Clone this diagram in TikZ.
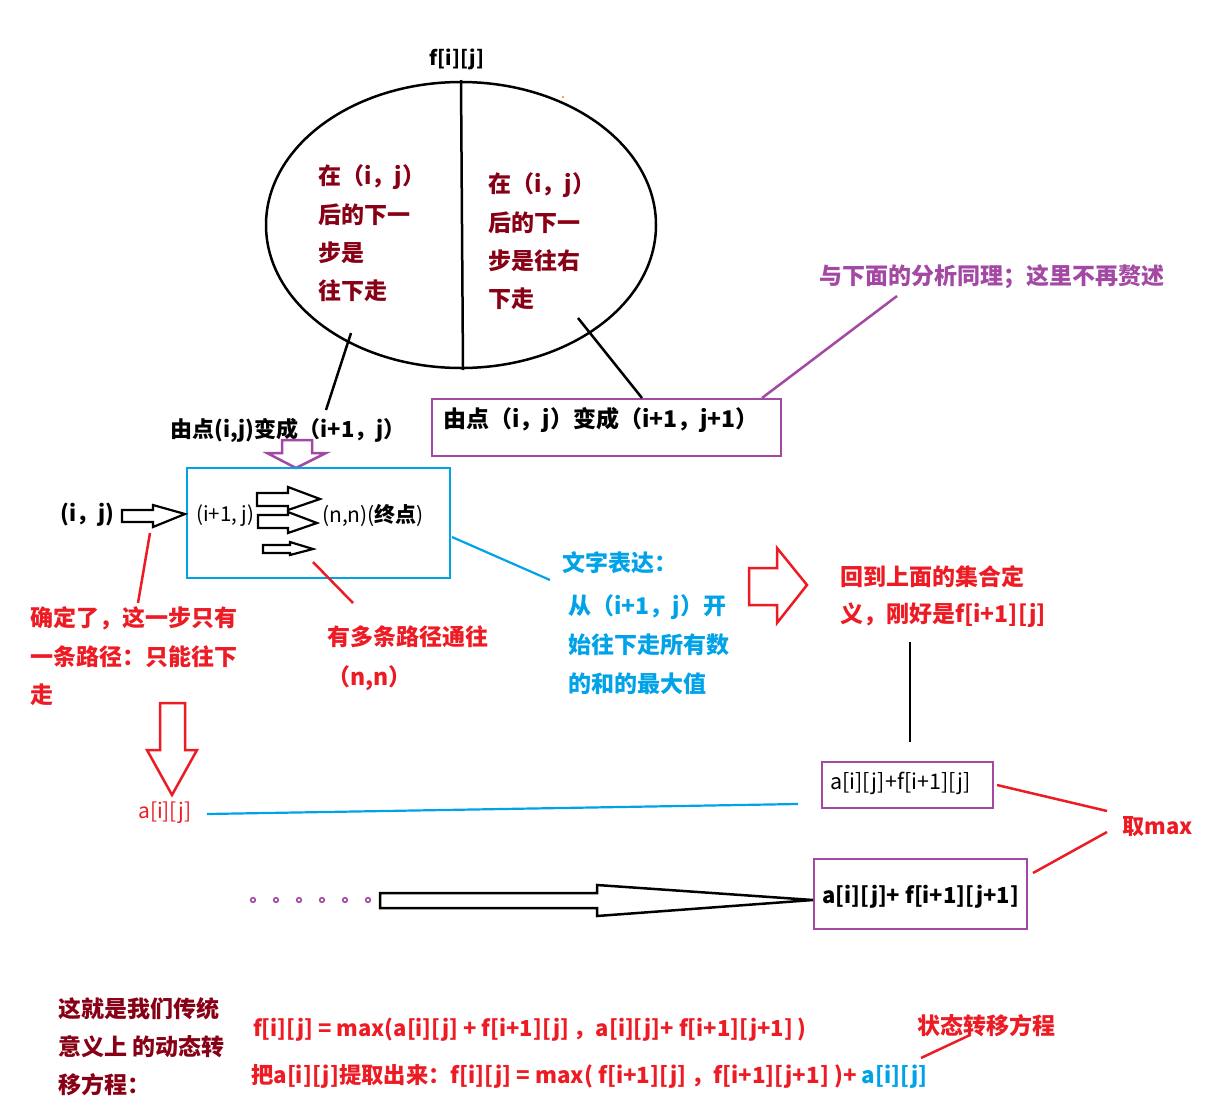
\documentclass[tikz,border=0pt]{standalone}
\usepackage{fontspec}
\setmainfont{Noto Sans CJK SC}
\usetikzlibrary{shapes.geometric}
\definecolor{pdred}{RGB}{136,0,21}
\definecolor{pred}{RGB}{237,28,36}
\definecolor{pblue}{RGB}{0,162,232}
\definecolor{ppurple}{RGB}{163,73,164}
\definecolor{porange}{RGB}{255,127,39}
\begin{document}
\begin{tikzpicture}[x=1pt,y=-1pt,line join=miter]
\useasboundingbox[fill=white] (0,0) rectangle (1213,1112);
\tikzset{
  txt/.style={inner sep=0pt,anchor=west,font=\fontsize{23}{27}\selectfont\bfseries},
  ftxt/.style={inner sep=0pt,anchor=west,font=\fontsize{22}{26}\selectfont\bfseries},
  txtn/.style={inner sep=0pt,anchor=west,font=\fontsize{21}{25}\selectfont},
  blk/.style={line width=2.5pt,draw=black},
  pbox/.style={draw=ppurple,line width=2.5pt,inner sep=0pt},
  bbox/.style={draw=pblue,line width=2.5pt,inner sep=0pt},
  redl/.style={draw=pred,line width=2.5pt},
  bluel/.style={draw=pblue,line width=2.2pt},
  purl/.style={draw=ppurple,line width=2.5pt},
  barrow/.style={draw=black,line width=2.2pt,fill=white},
}
% top set
\node[txt,anchor=center,font=\fontsize{20}{24}\selectfont\bfseries] (fij) at (457,59) {f[i][j]};
\node[ellipse,blk,minimum width=390pt,minimum height=286pt,inner sep=0pt] (ell) at (461,225) {};
\coordinate (divT) at (461,80);
\coordinate (divB) at (463,370);
\draw[blk] (divT) -- (divB);
\fill[porange] (563,97) circle (1.2);

\node[txt,text=pdred] (l1) at (318,177) {在（i，j）};
\node[txt,text=pdred] (l2) at (318,215) {后的下一};
\node[txt,text=pdred] (l3) at (318,253) {步是};
\node[txt,text=pdred] (l4) at (318,291) {往下走};
\node[txt,text=pdred] (r1) at (488,185) {在（i，j）};
\node[txt,text=pdred] (r2) at (488,223) {后的下一};
\node[txt,text=pdred] (r3) at (488,261) {步是往右};
\node[txt,text=pdred] (r4) at (488,299) {下走};

% labels below ellipse
\node[ftxt,anchor=center] (lab1) at (288,430) {由点(i,j)变成（i+1，j）};
\coordinate (c1a) at (351,333);
\coordinate (c1b) at (326,410);
\draw[blk] (c1a) -- (c1b);

\node[pbox,minimum width=349pt,minimum height=57pt] (box2) at (606.5,427.5) {};
\node[txt] (box2t) at (443,420) {由点（i，j）变成（i+1，j+1）};
\coordinate (c2a) at (578,318);
\coordinate (c2b) at (642,398);
\draw[blk] (c2a) -- (c2b);
\node[txt,anchor=center,text=ppurple] (same) at (992,277) {与下面的分析同理；这里不再赘述};
\coordinate (c3a) at (762,398);
\coordinate (c3b) at (897,296);
\draw[purl] (c3a) -- (c3b);

% purple down arrow
\draw[purl] (282,440) -- (312,440) -- (312,453) -- (326,453) -- (296,468) -- (267,453) -- (282,453) -- cycle;

% blue box
\node[bbox,minimum width=263pt,minimum height=110pt] (box1) at (318.5,523) {};
\node[txtn,font=\fontsize{20.5}{24}\selectfont] (ip1) at (196,516) {(i+1, j)};
\node[txtn] (nn) at (322,515) {(n,n)(\textbf{终点})};
\draw[barrow] (257,493) -- (288,493) -- (288,487) -- (320,499) -- (288,510) -- (288,506) -- (257,506) -- cycle;
\draw[barrow] (258,515) -- (288,515) -- (288,512) -- (317,523) -- (288,533) -- (288,528) -- (258,528) -- cycle;
\draw[barrow] (263,545) -- (290,545) -- (290,542) -- (313,549) -- (290,555) -- (290,553) -- (263,553) -- cycle;

% (i,j) arrow
\node[ftxt] (ij) at (60,515) {(i，j)};
\draw[barrow] (122,510) -- (153,510) -- (153,505) -- (185,514) -- (153,527) -- (153,522) -- (122,522) -- cycle;

% red annotations
\coordinate (c4a) at (150,533);
\coordinate (c4b) at (138,603);
\draw[redl] (c4a) -- (c4b);
\node[txt,text=pred] (q1) at (30,618) {确定了，这一步只有};
\node[txt,text=pred] (q2) at (30,657) {一条路径：只能往下};
\node[txt,text=pred] (q3) at (30,695) {走};

\coordinate (c5a) at (313,562);
\coordinate (c5b) at (353,603);
\draw[redl] (c5a) -- (c5b);
\node[txt,text=pred] (m1) at (327,637) {有多条路径通往};
\node[txt,text=pred] (m2) at (327,678) {（n,n）};

% blue description
\coordinate (c6a) at (452,537);
\coordinate (c6b) at (550,580);
\draw[bluel] (c6a) -- (c6b);
\node[txt,text=pblue] (w1) at (562,563) {文字表达：};
\node[txt,text=pblue] (w2) at (568,607) {从（i+1，j）开};
\node[txt,text=pblue] (w3) at (568,645) {始往下走所有数};
\node[txt,text=pblue] (w4) at (568,684) {的和的最大值};

% red right arrow
\draw[redl] (749,568) -- (777,568) -- (777,548) -- (807,585) -- (777,623) -- (777,605) -- (749,605) -- cycle;
\node[txt,text=pred] (h1) at (840,577) {回到上面的集合定};
\node[txt,text=pred] (h2) at (840,615) {义，刚好是f[i+1][j]};
\coordinate (c7a) at (910,642);
\coordinate (c7b) at (910,742);
\draw[blk] (c7a) -- (c7b);

% boxes with sums
\node[pbox,minimum width=171pt,minimum height=46pt] (sa) at (907.5,785) {};
\node[txtn,font=\fontsize{21.5}{25}\selectfont] (sat) at (830,783) {a[i][j]+f[i+1][j]};
\node[pbox,minimum width=213pt,minimum height=70pt] (sb) at (920.5,894) {};
\node[ftxt] (sbt) at (822,897) {a[i][j]+ f[i+1][j+1]};
\node[ftxt,anchor=center,text=pred] (tmax) at (1158,827) {取max};
\coordinate (c8a) at (997,785);
\coordinate (c8b) at (1107,811);
\coordinate (c9a) at (1033,873);
\coordinate (c9b) at (1107,832);
\draw[redl] (c8a) -- (c8b);
\draw[redl] (c9a) -- (c9b);

% red down arrow and a[i][j]
\draw[redl] (160,703) -- (185,703) -- (185,750) -- (197,750) -- (172,795) -- (147,750) -- (160,750) -- cycle;
\node[txtn,text=pred,font=\fontsize{21}{24}\selectfont] (aij) at (138,813) {a[i][j]};
\coordinate (c10a) at (207,814);
\coordinate (c10b) at (798,804);
\draw[bluel] (c10a) -- (c10b);

% dots and long arrow
\foreach \xx in {253,276,299,322,345,368} \draw[ppurple,line width=1.6pt] (\xx,900) circle (2.3);
\draw[barrow,line width=2.5pt] (380,893) -- (597,893) -- (597,885) -- (813,900) -- (597,916) -- (597,908) -- (380,908) -- cycle;

% bottom text
\node[txt,text=pdred] (b1) at (58,1009) {这就是我们传统};
\node[txt,text=pdred] (b2) at (58,1047) {意义上 的动态转};
\node[txt,text=pdred] (b3) at (58,1085) {移方程：};
\node[ftxt,text=pred] (f1) at (253,1030) {f[i][j] = max(a[i][j] + f[i+1][j] ，a[i][j]+ f[i+1][j+1] )};
\node[ftxt,text=pred,font=\fontsize{22.3}{26}\selectfont\bfseries] (f2) at (251,1076) {把a[i][j]提取出来：f[i][j] = max( f[i+1][j] ，f[i+1][j+1] )+ \textcolor{pblue}{a[i][j]}};
\node[txt,text=pred] (st) at (917,1026) {状态转移方程};
\coordinate (c11a) at (921,1058);
\coordinate (c11b) at (970,1035);
\draw[redl] (c11a) -- (c11b);
\end{tikzpicture}
\end{document}
